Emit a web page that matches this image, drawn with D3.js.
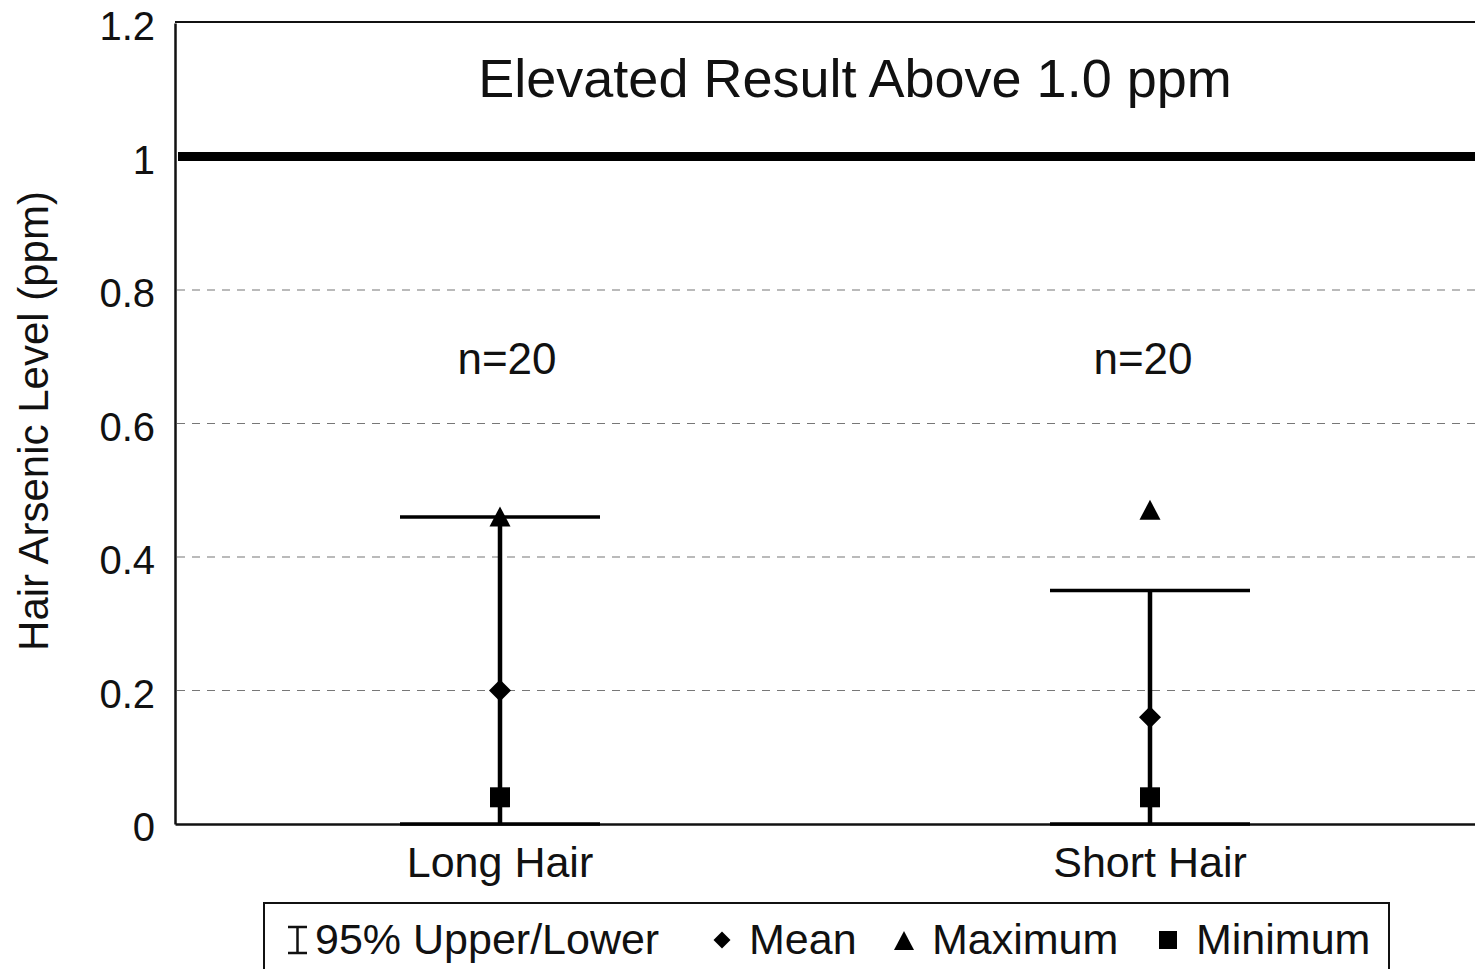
<!DOCTYPE html>
<html>
<head>
<meta charset="utf-8">
<script src="https://cdn.jsdelivr.net/npm/d3@7"></script>
<style>
  html, body { margin: 0; padding: 0; background: #fff; }
  svg { display: block; }
  text { font-family: "Liberation Sans", Arial, Helvetica, sans-serif; fill: #111; }
</style>
</head>
<body>
<svg id="chart" width="1475" height="969"></svg>
<script>
// ---- Data ----
const categories = ["Long Hair", "Short Hair"];
const upper95 = [0.46, 0.35];
const lower95 = [0.0, 0.0];
const means = [0.20, 0.16];
const maxima = [0.46, 0.47];
const minima = [0.04, 0.04];
const sampleSizes = [20, 20];
const yTicks = [0, 0.2, 0.4, 0.6, 0.8, 1, 1.2];
const yTickLabels = ["0", "0.2", "0.4", "0.6", "0.8", "1", "1.2"];
const gridValues = [0.2, 0.4, 0.6, 0.8];
const threshold = 1.0;
const titleText = "Elevated Result Above 1.0 ppm";
const yAxisTitle = "Hair Arsenic Level (ppm)";
const legendLabels = ["95% Upper/Lower", "Mean", "Maximum", "Minimum"];

// ---- Layout ----
const svg = d3.select("#chart");
const mLeft = 175, mRight = 1475, mTop = 23, mBottom = 824;

const y = d3.scaleLinear().domain([0, 1.2]).range([mBottom, mTop]);
const x = d3.scaleBand().domain(categories).range([mLeft, mRight]);
const cx = c => x(c) + x.bandwidth() / 2;

// gridlines
svg.append("g").selectAll("line").data(gridValues).join("line")
  .attr("x1", mLeft + 2).attr("x2", mRight)
  .attr("y1", d => y(d)).attr("y2", d => y(d))
  .attr("stroke", "#777").attr("stroke-width", 1.2)
  .attr("stroke-dasharray", "8,7");

// frame: top line
svg.append("line").attr("x1", mLeft).attr("x2", mRight).attr("y1", mTop - 1).attr("y2", mTop - 1)
  .attr("stroke", "#111").attr("stroke-width", 2);

const yAxis = d3.axisLeft(y).tickValues(yTicks).tickSize(0)
  .tickFormat((d, i) => yTickLabels[i]).tickPadding(20);
const gy = svg.append("g").attr("transform", `translate(${mLeft},0)`).call(yAxis);
gy.select(".domain").attr("stroke", "#111").attr("stroke-width", 2.5);
gy.selectAll(".tick text").attr("font-size", 40).attr("fill", "#111")
  .attr("dy", "0.42em")
  .attr("font-family", "'Liberation Sans', Arial, sans-serif");

const xAxis = d3.axisBottom(x).tickSize(0).tickPadding(22);
const gx = svg.append("g").attr("transform", `translate(0,${mBottom})`).call(xAxis);
gx.select(".domain").attr("stroke", "#111").attr("stroke-width", 2.5);
gx.selectAll(".tick text").attr("font-size", 43).attr("fill", "#111")
  .attr("font-family", "'Liberation Sans', Arial, sans-serif");

// threshold line
svg.append("line").attr("x1", mLeft + 3).attr("x2", mRight)
  .attr("y1", y(threshold)).attr("y2", y(threshold))
  .attr("stroke", "#000").attr("stroke-width", 9);

// title
svg.append("text").attr("x", 855).attr("y", 97).attr("text-anchor", "middle")
  .attr("font-size", 54).text(titleText);

// y axis title
svg.append("text").attr("transform", `translate(48,421) rotate(-90)`)
  .attr("text-anchor", "middle").attr("font-size", 42).text(yAxisTitle);

// sample size labels
svg.append("g").selectAll("text").data(categories).join("text")
  .attr("x", (d, i) => cx(d) + (i === 0 ? 7 : -7))
  .attr("y", 374).attr("text-anchor", "middle").attr("font-size", 44)
  .text((d, i) => "n=" + sampleSizes[i]);

// ---- marks ----
const capHalf = 100;
const diamondPath = (s) => `M0,${-s}L${s},0L0,${s}L${-s},0Z`;
const trianglePath = (s) => `M0,${-s}L${s},${s * 0.9}L${-s},${s * 0.9}Z`;
const squarePath = (s) => `M${-s},${-s}H${s}V${s}H${-s}Z`;

const g = svg.append("g");
categories.forEach((c, i) => {
  const px = cx(c);
  g.append("line").attr("x1", px).attr("x2", px)
    .attr("y1", y(lower95[i])).attr("y2", y(upper95[i]))
    .attr("stroke", "#000").attr("stroke-width", 4.5);
  [upper95[i], lower95[i]].forEach(v => {
    g.append("line").attr("x1", px - capHalf).attr("x2", px + capHalf)
      .attr("y1", y(v)).attr("y2", y(v))
      .attr("stroke", "#000").attr("stroke-width", 3.5);
  });
  g.append("path").attr("d", diamondPath(11))
    .attr("transform", `translate(${px},${y(means[i])})`).attr("fill", "#000");
  g.append("path").attr("d", trianglePath(10.5))
    .attr("transform", `translate(${px},${y(maxima[i])})`).attr("fill", "#000");
  g.append("path").attr("d", squarePath(10))
    .attr("transform", `translate(${px},${y(minima[i])})`).attr("fill", "#000");
});

// ---- legend ----
const lg = svg.append("g");
lg.append("rect").attr("x", 264).attr("y", 903).attr("width", 1125).attr("height", 80)
  .attr("fill", "none").attr("stroke", "#111").attr("stroke-width", 2);
const ly = 940;
lg.append("path")
  .attr("d", `M288,${ly - 13}H307M297.5,${ly - 13}V${ly + 13}M288,${ly + 13}H307`)
  .attr("stroke", "#111").attr("stroke-width", 2.5).attr("fill", "none");
lg.append("path").attr("d", diamondPath(8.5)).attr("transform", `translate(722,${ly})`).attr("fill", "#000");
lg.append("path").attr("d", trianglePath(10)).attr("transform", `translate(904,${ly + 1})`).attr("fill", "#000");
lg.append("path").attr("d", squarePath(9)).attr("transform", `translate(1168,${ly})`).attr("fill", "#000");
const legendX = [315, 749, 932, 1196];
lg.selectAll("text.lt").data(legendLabels).join("text").attr("class", "lt")
  .attr("x", (d, i) => legendX[i]).attr("y", 954).attr("font-size", 43).text(d => d);
</script>
</body>
</html>
